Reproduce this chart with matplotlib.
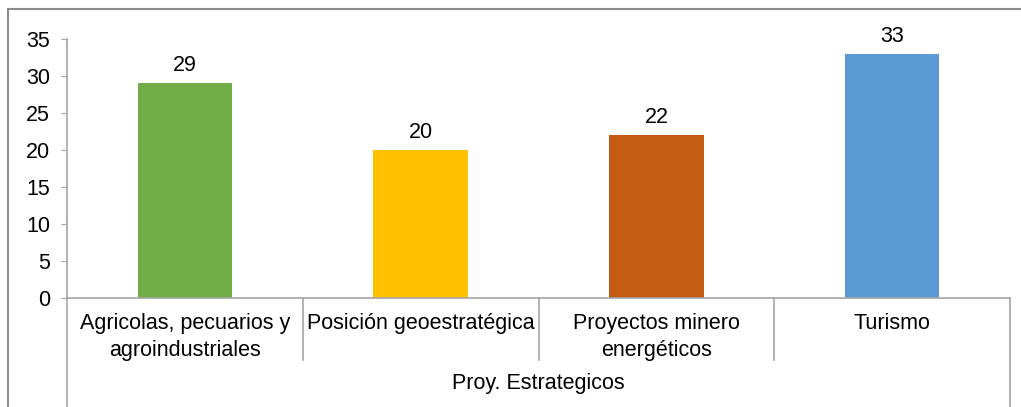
import matplotlib.pyplot as plt
from matplotlib.lines import Line2D

categories = ["Agricolas, pecuarios y\nagroindustriales", "Posición geoestratégica",
              "Proyectos minero\nenergéticos", "Turismo"]
values = [29, 20, 22, 33]
colors = ["#70AD47", "#FFC000", "#C55A11", "#5B9BD5"]
group_label = "Proy. Estrategicos"
yticks = [0, 5, 10, 15, 20, 25, 30, 35]

plt.rcParams["font.family"] = ["Liberation Sans", "DejaVu Sans"]
W, H = 1021, 407
fs = 15.5
fig = plt.figure(figsize=(W / 100, H / 100), dpi=100)

x0, x1 = 67, 1010
ytop, ybot = 38.7, 297.7
ax = fig.add_axes([x0 / W, (H - ybot) / H, (x1 - x0) / W, (ybot - ytop) / H])

gray = "#A6A6A6"
xs = list(range(len(values)))
bars = ax.bar(xs, values, width=0.4, color=colors, zorder=2)
ax.bar_label(bars, labels=[str(v) for v in values], padding=5, fontsize=fs)

ax.set_xlim(-0.5, len(values) - 0.5)
ax.set_ylim(0, 35)
ax.set_yticks(yticks)
ax.tick_params(axis="y", length=4.3, color=gray, labelsize=fs, pad=8)
ax.set_xticks([])
for s in ["top", "right"]:
    ax.spines[s].set_visible(False)
for s in ["left", "bottom"]:
    ax.spines[s].set_color(gray)
    ax.spines[s].set_linewidth(1.2)

# category separators and outer group lines
ah = ybot - ytop
sep_bot = (ybot - 360) / ah
outer_bot = (ybot - H) / ah
tr = ax.get_xaxis_transform()
for b in [0.5, 1.5, 2.5]:
    ax.add_line(Line2D([b, b], [0, sep_bot], transform=tr, color=gray, lw=1.2, clip_on=False))
for b in [-0.5, len(values) - 0.5]:
    ax.add_line(Line2D([b, b], [0, outer_bot], transform=tr, color=gray, lw=1.2, clip_on=False))

lab_y = (ybot - 313) / ah
for x, c in zip(xs, categories):
    ax.text(x, lab_y, c, transform=tr, ha="center", va="top", fontsize=fs,
            linespacing=1.35, multialignment="center")
ax.text(0.5, (ybot - 384) / ah, group_label, transform=ax.transAxes,
        ha="center", va="center", fontsize=fs)

# outer chart border (left and top)
bx, by = 8 / W, 1 - 9 / H
fig.add_artist(Line2D([bx, bx], [0, by], transform=fig.transFigure, color="#8C8C8C", lw=1.5))
fig.add_artist(Line2D([bx, 1], [by, by], transform=fig.transFigure, color="#8C8C8C", lw=1.5))

fig.savefig("out.png", dpi=100)
